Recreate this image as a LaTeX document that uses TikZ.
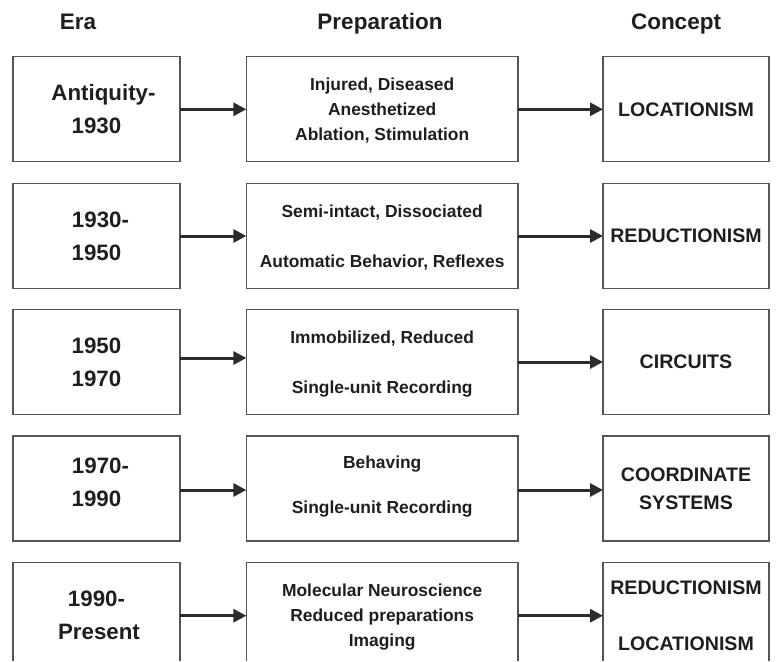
\documentclass[tikz,border=0pt]{standalone}
\usepackage{fontspec}
\setmainfont{Liberation Sans}
\usetikzlibrary{arrows.meta}
\newcommand\StrE{\rule[-8.25pt]{0pt}{33pt}}
\newcommand\StrM{\rule[-6.25pt]{0pt}{25pt}}
\newcommand\StrN{\rule[-5pt]{0pt}{22.5pt}}
\newcommand\StrC{\rule[-7pt]{0pt}{28pt}}
\definecolor{boxgray}{HTML}{555555}
\definecolor{inkdark}{HTML}{1E1E1E}
\definecolor{arrowdark}{HTML}{2B2B2B}
\begin{document}
\begin{tikzpicture}[x=1pt,y=-1pt,
 box/.style={draw=boxgray,line width=1.2pt,minimum height=105pt,inner sep=0pt,outer sep=0pt,align=center,text=inkdark},
 erabox/.style={box,minimum width=167pt,font=\fontsize{22.3}{33}\selectfont\bfseries},
 prepbox/.style={box,minimum width=271.7pt,font=\fontsize{17.4}{25}\selectfont\bfseries},
 conbox/.style={box,minimum width=166pt,font=\fontsize{19.6}{28}\selectfont\bfseries},
 openbox/.style={draw=none},
 headtxt/.style={anchor=base,inner sep=0pt,text=inkdark,font=\fontsize{22.5}{27}\selectfont\bfseries},
 flow/.style={draw=arrowdark,line width=3pt,-{Triangle[length=13pt,width=13pt]}},
 outline/.style={draw=boxgray,line width=1.2pt}
]
\useasboundingbox (0,0) rectangle (776,661);

% headings
\node[headtxt] (hera) at (78,29.3) {Era};
\node[headtxt] (hprep) at (380,29.3) {Preparation};
\node[headtxt] (hcon) at (676,29.3) {Concept};

% row 1
\node[erabox] (e1) at (96.5,109) {\hspace*{14pt}Antiquity-\StrE\\1930\StrE};
\node[prepbox] (p1) at (382.2,109) {Injured, Diseased\StrM\\Anesthetized\StrM\\Ablation, Stimulation\StrM};
\node[conbox] (c1) at (686,109) {LOCATIONISM\StrC};

% row 2
\node[erabox] (e2) at (96.5,235.8) {\hspace*{8pt}1930-\StrE\\1950\StrE};
\node[prepbox] (p2) at (382.2,235.8) {Semi-intact, Dissociated\StrM\\\StrM\\Automatic Behavior, Reflexes\StrM};
\node[conbox] (c2) at (686,235.8) {REDUCTIONISM\StrC};

% row 3
\node[erabox] (e3) at (96.5,361.8) {1950\StrE\\1970\StrE};
\node[prepbox] (p3) at (382.2,361.8) {Immobilized, Reduced\StrM\\\StrM\\Single-unit Recording\StrM};
\node[conbox] (c3) at (686,361.8) {CIRCUITS\StrC};

% row 4
\node[erabox] (e4) at (96.5,488.5) {\hspace*{8pt}1970-\StrE\\1990\StrE\rule[-21.25pt]{0pt}{0pt}};
\node[prepbox,font=\fontsize{17.4}{22.5}\selectfont\bfseries] (p4) at (382.2,488.5) {Behaving\StrN\\\StrN\\Single-unit Recording\StrN\rule[-13pt]{0pt}{0pt}};
\node[conbox] (c4) at (686,488.5) {COORDINATE\StrC\\SYSTEMS\StrC};

% row 5 (cut by the lower edge)
\node[erabox,openbox] (e5) at (96.5,615.2) {1990-\StrE\\\hspace*{5pt}Present\StrE};
\node[prepbox,openbox] (p5) at (382.2,615.2) {Molecular Neuroscience\StrM\\Reduced preparations\StrM\\Imaging\StrM};
\node[conbox,openbox] (c5) at (686,615.2) {REDUCTIONISM\StrC\\\StrC\\LOCATIONISM\StrC};
\draw[outline] (e5.west |- 0,661) |- (e5.north east) -- (e5.east |- 0,661);
\draw[outline] (p5.west |- 0,661) |- (p5.north east) -- (p5.east |- 0,661);
\draw[outline] (c5.west |- 0,661) |- (c5.north east) -- (c5.east |- 0,661);

% connectors
\draw[flow] (e1.east |- 0,109.3) -- (p1.west |- 0,109.3);
\draw[flow] (p1.east |- 0,109.3) -- (c1.west |- 0,109.3);
\draw[flow] (e2.east |- 0,236) -- (p2.west |- 0,236);
\draw[flow] (p2.east |- 0,236) -- (c2.west |- 0,236);
\draw[flow] (e3.east |- 0,358) -- (p3.west |- 0,358);
\draw[flow] (p3.east |- 0,362) -- (c3.west |- 0,362);
\draw[flow] (e4.east |- 0,490) -- (p4.west |- 0,490);
\draw[flow] (p4.east |- 0,490) -- (c4.west |- 0,490);
\draw[flow] (e5.east |- 0,615.7) -- (p5.west |- 0,615.7);
\draw[flow] (p5.east |- 0,615.7) -- (c5.west |- 0,615.7);
\end{tikzpicture}
\end{document}
